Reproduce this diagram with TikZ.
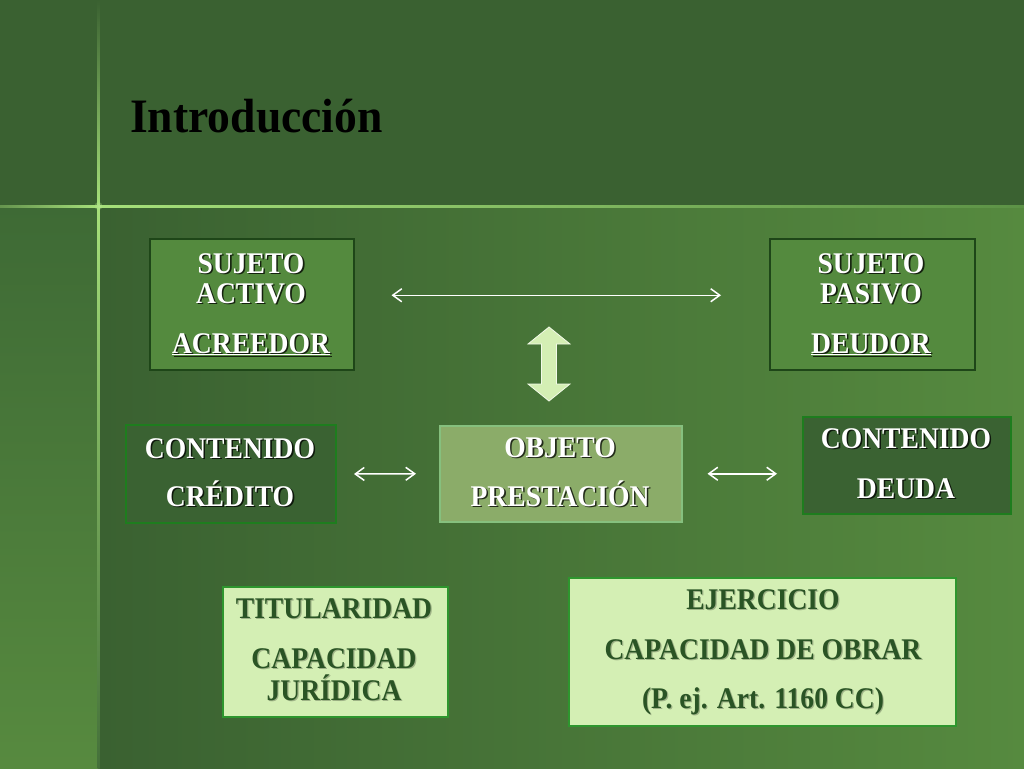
\documentclass[tikz,border=0pt]{standalone}
\usepackage{fontspec}
\setmainfont{Liberation Serif}
\newfontfamily\bxf[FakeStretch=0.92]{Liberation Serif}
\newfontfamily\ttlf[FakeStretch=0.95]{Liberation Serif}
\usetikzlibrary{arrows.meta,calc}
\definecolor{bgdark}{HTML}{3A6131}
\definecolor{bgright}{HTML}{568A3F}
\definecolor{striptop}{HTML}{3E6A35}
\definecolor{stripbot}{HTML}{578A3F}
\definecolor{glow}{HTML}{A6E07A}
\definecolor{linefar}{HTML}{5C9246}
\definecolor{linelow}{HTML}{44703A}
\definecolor{subj}{HTML}{548A3E}
\definecolor{subjb}{HTML}{1E4618}
\definecolor{cont}{HTML}{3A6232}
\definecolor{contb}{HTML}{1E7D1E}
\definecolor{objf}{HTML}{8BAC69}
\definecolor{objb}{HTML}{86C07E}
\definecolor{pale}{HTML}{D4EFB4}
\definecolor{paleb}{HTML}{2E962E}
\definecolor{dtext}{HTML}{2A5425}
\tikzset{
  boxbase/.style={anchor=north west, inner sep=0pt, line width=1.5pt},
  subjbox/.style={boxbase, fill=subj, draw=subjb},
  contbox/.style={boxbase, fill=cont, draw=contb, line width=2pt},
  objbox/.style={boxbase, fill=objf, draw=objb},
  palebox/.style={boxbase, fill=pale, draw=paleb},
  wtx/.style={font=\bxf\bfseries\fontsize{30}{32}\selectfont, text=white, anchor=base, inner sep=0pt},
  wsh/.style={wtx, text=black, opacity=0.75},
  dtx/.style={wtx, text=dtext},
  dsh/.style={wtx, text=black, opacity=0.25},
  arr/.style={draw=white, line width=1.5pt, {Straight Barb[length=9pt,width=13pt]}-{Straight Barb[length=9pt,width=13pt]}},
  titlestyle/.style={font=\ttlf\bfseries\fontsize{48}{50}\selectfont, text=black, anchor=base west, inner sep=0pt}
}
\newcommand\wt[3]{\node[wsh] at ($(#2)+(1.6,1.6)$) {#3};\node[wtx] (#1) at (#2) {#3};}
\newcommand\dt[3]{\node[dsh] at ($(#2)+(1.2,1.2)$) {#3};\node[dtx] (#1) at (#2) {#3};}
\begin{document}
\begin{tikzpicture}[x=1pt,y=-1pt]
\useasboundingbox (0,0) rectangle (1024,768);
% background
\fill[bgdark] (0,0) rectangle (1024,206);
\shade[left color=bgdark, right color=bgright] (99,206) rectangle (1024,768);
\shade[top color=striptop, bottom color=stripbot] (0,206) rectangle (99,768);
% light lines
\shade[top color=bgdark, bottom color=glow] (97.5,0) rectangle (99.5,206);
\shade[top color=glow, bottom color=linelow] (97.5,206) rectangle (99.5,768);
\shade[left color=bgdark!60!glow, right color=glow] (0,205) rectangle (98,207);
\shade[left color=glow, right color=linefar] (99,205) rectangle (1024,207);
\shade[inner color=white!40!glow, outer color=glow, opacity=0.35] (98.5,206) circle (4);
% title
\node[titlestyle] (title) at (130,132) {Introducción};
% boxes
\node[subjbox, minimum width=204pt, minimum height=131pt] (sa) at (149,238) {};
\node[subjbox, minimum width=205pt, minimum height=131pt] (sp) at (769,238) {};
\node[contbox, minimum width=210pt, minimum height=98pt] (cc) at (125,424) {};
\node[objbox, minimum width=242pt, minimum height=96pt] (obj) at (439,425) {};
\node[contbox, minimum width=208pt, minimum height=97pt] (cd) at (802,416) {};
\node[palebox, minimum width=225pt, minimum height=130pt] (tit) at (222,586) {};
\node[palebox, minimum width=387pt, minimum height=148pt] (ej) at (568,577) {};
% texts
\wt{sa1}{251,273}{SUJETO}
\wt{sa2}{251,303}{ACTIVO}
\wt{sa3}{251,353}{\underline{ACREEDOR}}
\wt{sp1}{871,273}{SUJETO}
\wt{sp2}{871,303}{PASIVO}
\wt{sp3}{871,353}{\underline{DEUDOR}}
\wt{cc1}{230,458}{CONTENIDO}
\wt{cc2}{230,506}{CRÉDITO}
\wt{ob1}{560,457}{OBJETO}
\wt{ob2}{560,506}{PRESTACIÓN}
\wt{cd1}{906,448}{CONTENIDO}
\wt{cd2}{906,498}{DEUDA}
\dt{ti1}{334,618}{TITULARIDAD}
\dt{ti2}{334,668}{CAPACIDAD}
\dt{ti3}{334,700}{JURÍDICA}
\dt{ej1}{763,609}{EJERCICIO}
\dt{ej2}{763,659}{CAPACIDAD DE OBRAR}
\dt{ej3}{763,708}{(P. ej. Art. 1160 CC)}
% connectors
\draw[arr] ($(sa.east)+(37,-9)$) -- ($(sp.west)+(-48,-9)$);
\draw[arr] ($(cc.east)+(17,0)$) -- ($(obj.west)+(-23,0)$);
\draw[arr] ($(obj.east)+(25,0)$) -- ($(obj.east -| cd.west)+(-25,0)$);
% fat double arrow
\filldraw[fill=pale, draw=white!70!pale, line width=0.8pt]
  (549,327) -- (570,344) -- (556.5,344) -- (556.5,384) -- (570,384) -- (549,401)
  -- (528,384) -- (541.5,384) -- (541.5,344) -- (528,344) -- cycle;
\end{tikzpicture}
\end{document}
